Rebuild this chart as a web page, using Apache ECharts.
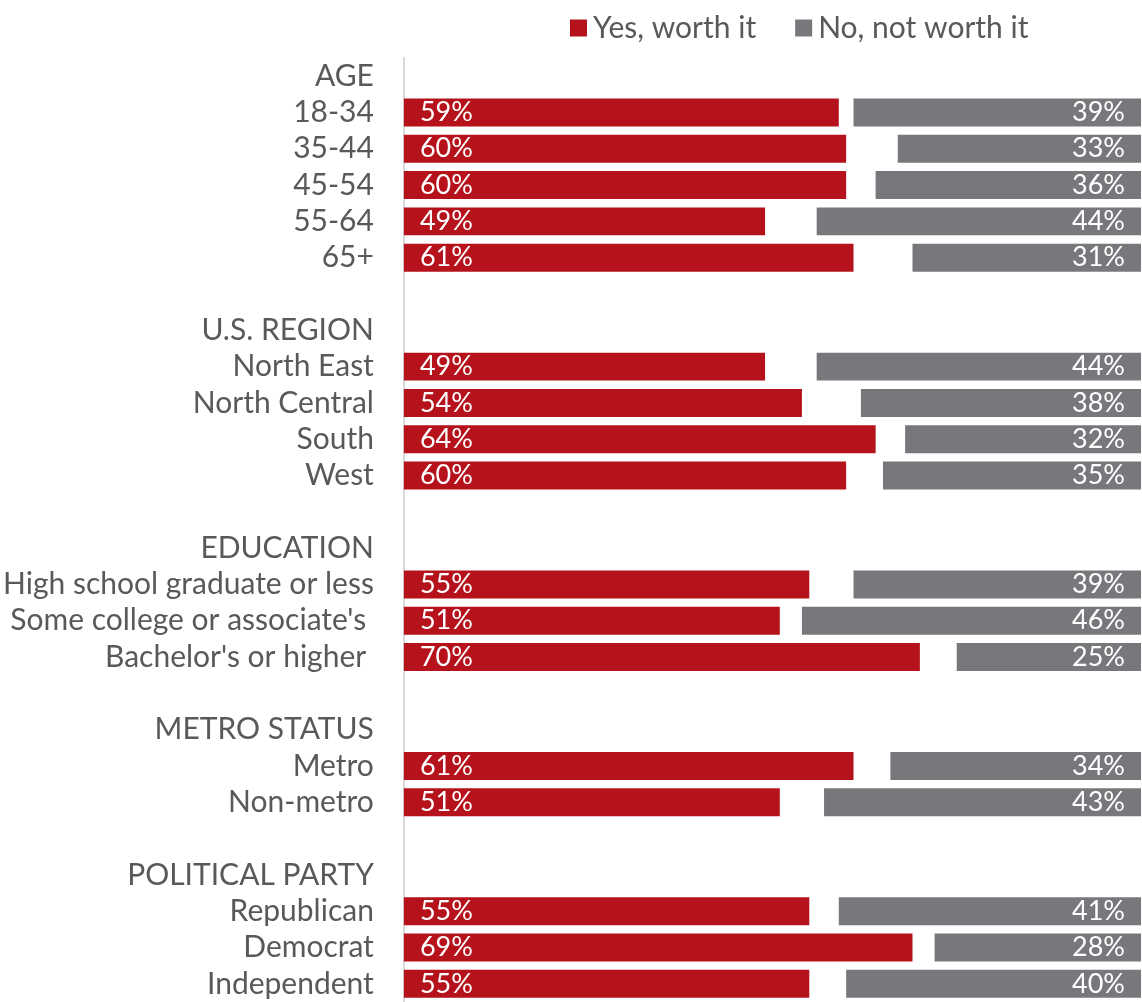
<!DOCTYPE html>
<html>
<head>
<meta charset="utf-8">
<script src="https://cdn.jsdelivr.net/npm/echarts@6/dist/echarts.min.js"></script>
<style>
  html, body { margin: 0; padding: 0; background: #fff; }
  #chart { width: 1142px; height: 1002px; }
</style>
</head>
<body>
<div id="chart"></div>
<script>
// Rows of the chart: group headings, their sub-groups, and blank spacer rows
const categories = [
  'AGE', '18-34', '35-44', '45-54', '55-64', '65+', ' ',
  'U.S. REGION', 'North East', 'North Central', 'South', 'West', '  ',
  'EDUCATION', 'High school graduate or less', "Some college or associate's ", "Bachelor's or higher ", '   ',
  'METRO STATUS', 'Metro', 'Non-metro', '    ',
  'POLITICAL PARTY', 'Republican', 'Democrat', 'Independent'
];

// Share answering "Yes, worth it" (%), null on heading / spacer rows
const yesWorthIt = [
  null, 59, 60, 60, 49, 61, null,
  null, 49, 54, 64, 60, null,
  null, 55, 51, 70, null,
  null, 61, 51, null,
  null, 55, 69, 55
];

// Share answering "No, not worth it" (%)
const noNotWorthIt = [
  null, 39, 33, 36, 44, 31, null,
  null, 44, 38, 32, 35, null,
  null, 39, 46, 25, null,
  null, 34, 43, null,
  null, 41, 28, 40
];

// Invisible spacer so the "No" bar ends at 100%
const spacer = yesWorthIt.map((y, i) => (y == null ? null : 100 - y - noNotWorthIt[i]));

const FONT = 'Lato';
const RED = '#B5121B';
const GREY = '#76787B';
const TEXT = '#595959';

const chart = echarts.init(document.getElementById('chart'), null, { renderer: 'canvas' });

chart.setOption({
  animation: false,
  backgroundColor: '#ffffff',
  textStyle: { fontFamily: FONT },
  legend: {
    data: ['Yes, worth it', 'No, not worth it'],
    left: 565,
    top: 8,
    itemWidth: 17,
    itemHeight: 17,
    itemGap: 39,
    icon: 'rect',
    textStyle: { color: TEXT, fontSize: 30, fontFamily: FONT, lineHeight: 30, padding: [0, 0, 0, 1] }
  },
  grid: { left: 403, right: 1, top: 58, bottom: -6, containLabel: false },
  xAxis: {
    type: 'value',
    min: 0,
    max: 100,
    show: false
  },
  yAxis: {
    type: 'category',
    inverse: true,
    data: categories,
    axisLine: { show: true, lineStyle: { color: '#D9D9D9', width: 2 } },
    axisTick: { show: false },
    axisLabel: { interval: 0, color: TEXT, fontSize: 30, fontFamily: FONT, margin: 30 }
  },
  series: [
    {
      name: 'Yes, worth it',
      type: 'bar',
      stack: 'total',
      barCategoryGap: '23%',
      itemStyle: { color: RED },
      label: {
        show: true,
        position: 'insideLeft',
        distance: 16,
        color: '#ffffff',
        fontSize: 27,
        fontFamily: FONT,
        formatter: p => p.value + '%'
      },
      data: yesWorthIt
    },
    {
      name: 'spacer',
      type: 'bar',
      stack: 'total',
      itemStyle: { color: 'rgba(0,0,0,0)' },
      silent: true,
      data: spacer
    },
    {
      name: 'No, not worth it',
      type: 'bar',
      stack: 'total',
      itemStyle: { color: GREY },
      label: {
        show: true,
        position: 'insideRight',
        distance: 16,
        color: '#ffffff',
        fontSize: 27,
        fontFamily: FONT,
        formatter: p => p.value + '%'
      },
      data: noNotWorthIt
    }
  ]
});
</script>
</body>
</html>
